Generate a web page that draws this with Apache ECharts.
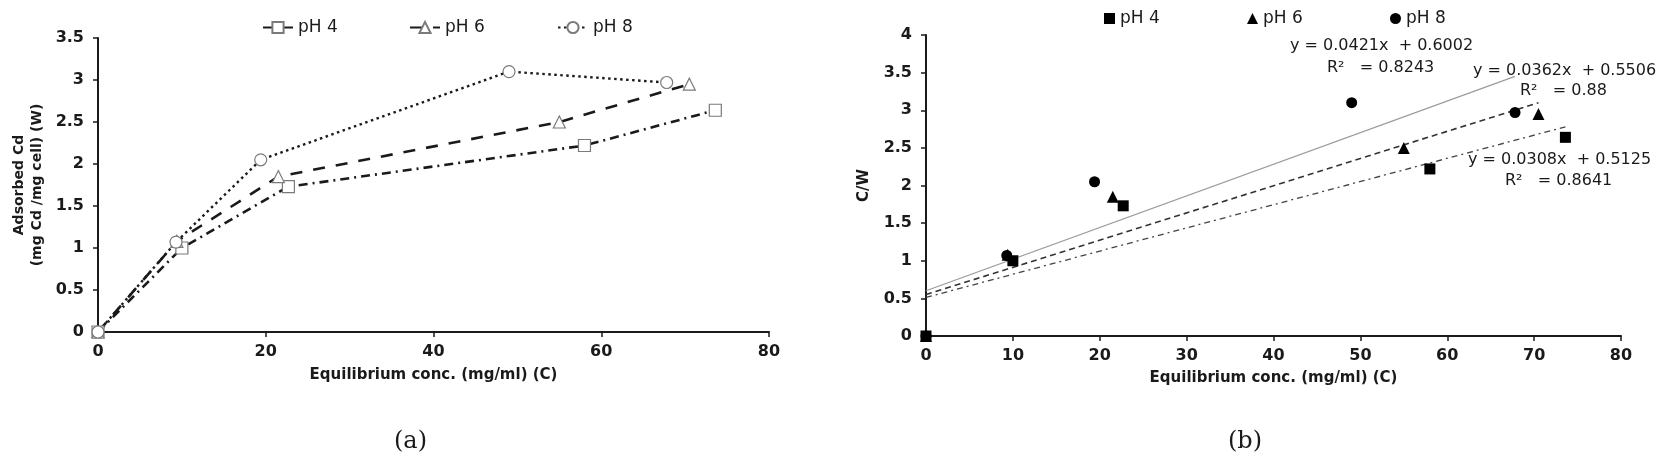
<!DOCTYPE html>
<html>
<head>
<meta charset="utf-8">
<script src="https://cdn.jsdelivr.net/npm/echarts@6/dist/echarts.min.js"></script>
<style>
  html, body { margin: 0; padding: 0; background: #fff; }
  #chart { width: 1667px; height: 462px; }
</style>
</head>
<body>
<div id="chart"></div>
<script>
// equilibrium conc. C (mg/ml) and adsorbed Cd W for each pH
const ph4C = [0, 10, 22.7, 58, 73.6]
const ph4W = [0, 1.0, 1.73, 2.22, 2.64]
const ph6C = [0, 9.4, 21.5, 55, 70.5]
const ph6W = [0, 1.08, 1.85, 2.5, 2.95]
const ph8C = [0, 9.3, 19.4, 49, 67.8]
const ph8W = [0, 1.07, 2.05, 3.1, 2.97]

// linear fits shown in panel (b): [x, y] at both ends of each line
const fit4 = [[0, 0.5125], [73.6, 2.78]]
const fit6 = [[0, 0.5506], [70.5, 3.10]]
const fit8 = [[0, 0.6002], [67.8, 3.45]]
const fitText = [
  ['y = 0.0421x  + 0.6002', 'R\u00b2   = 0.8243'],
  ['y = 0.0362x  + 0.5506', 'R\u00b2   = 0.88'],
  ['y = 0.0308x  + 0.5125', 'R\u00b2   = 0.8641']
]

const xTitle = 'Equilibrium conc. (mg/ml) (C)'
const FONT = 'DejaVu Sans'
const INK = '#1a1a1a'

const pairs = (xs, ys) => xs.map((x, i) => [x, ys[i]])

function axisBase() {
  return {
    type: 'value',
    splitLine: { show: false },
    axisLine: { show: true, lineStyle: { color: INK, width: 2 } },
    axisTick: { show: true, length: 5, lineStyle: { color: INK, width: 1.5 } },
    axisLabel: { color: INK, fontFamily: FONT, fontSize: 16, fontWeight: 'bold' },
    nameTextStyle: { color: INK, fontFamily: FONT, fontWeight: 'bold' }
  }
}

const chart = echarts.init(document.getElementById('chart'))

const hollow = { color: '#fff', borderColor: '#7a7a7a', borderWidth: 1.2 }
const lineA = (name, data, symbol, dash, width) => ({
  name: 'a:' + name,
  type: 'line',
  xAxisIndex: 0,
  yAxisIndex: 0,
  data,
  symbol,
  symbolSize: 12,
  showSymbol: true,
  itemStyle: hollow,
  lineStyle: { color: INK, width, type: dash },
  z: 3
})
const dotsB = (name, data, symbol, size) => ({
  name: 'b:' + name,
  type: 'scatter',
  xAxisIndex: 1,
  yAxisIndex: 1,
  data,
  symbol,
  symbolSize: size,
  itemStyle: { color: '#000', opacity: 1 },
  z: 4
})
const fitLine = (data, color, width, dash) => ({
  type: 'line',
  xAxisIndex: 1,
  yAxisIndex: 1,
  data,
  symbol: 'none',
  lineStyle: { color, width, type: dash },
  silent: true,
  z: 2
})

const legendText = { color: INK, fontFamily: FONT, fontSize: 17 }
const legendItem = (name, left, top, w, h) => ({
  data: [name],
  left,
  top,
  itemWidth: w,
  itemHeight: h,
  itemGap: 0,
  selectedMode: false,
  textStyle: legendText,
  formatter: n => n.slice(2)
})

const eqStyle = { fill: INK, font: '16px "DejaVu Sans"', textVerticalAlign: 'middle' }
const eqLabel = (text, x, y) => ({ type: 'text', left: x, top: y - 10, style: Object.assign({ text }, eqStyle) })

chart.setOption({
  animation: false,
  backgroundColor: '#fff',
  grid: [
    { left: 98, top: 38, width: 671, height: 294 },
    { left: 926, top: 35, width: 695, height: 301 }
  ],
  xAxis: [
    Object.assign(axisBase(), {
      gridIndex: 0, min: 0, max: 80, interval: 20,
      name: xTitle, nameLocation: 'middle', nameGap: 36,
      nameTextStyle: { color: INK, fontFamily: FONT, fontWeight: 'bold', fontSize: 15 },
      axisLabel: { color: INK, fontFamily: FONT, fontSize: 16, fontWeight: 'bold', margin: 12 }
    }),
    Object.assign(axisBase(), {
      gridIndex: 1, min: 0, max: 80, interval: 10,
      name: xTitle, nameLocation: 'middle', nameGap: 35,
      nameTextStyle: { color: INK, fontFamily: FONT, fontWeight: 'bold', fontSize: 15 },
      axisLabel: { color: INK, fontFamily: FONT, fontSize: 16, fontWeight: 'bold', margin: 12 }
    })
  ],
  yAxis: [
    Object.assign(axisBase(), {
      gridIndex: 0, min: 0, max: 3.5, interval: 0.5,
      name: 'Adsorbed Cd\n(mg Cd /mg cell) (W)', nameLocation: 'middle', nameRotate: 90, nameGap: 52,
      nameTextStyle: { color: INK, fontFamily: FONT, fontWeight: 'bold', fontSize: 14, lineHeight: 18 },
      axisLabel: { color: INK, fontFamily: FONT, fontSize: 16, fontWeight: 'bold', margin: 14 }
    }),
    Object.assign(axisBase(), {
      gridIndex: 1, min: 0, max: 4, interval: 0.5,
      name: 'C/W', nameLocation: 'middle', nameRotate: 90, nameGap: 54,
      nameTextStyle: { color: INK, fontFamily: FONT, fontWeight: 'bold', fontSize: 15 },
      axisLabel: { color: INK, fontFamily: FONT, fontSize: 16, fontWeight: 'bold', margin: 14 }
    })
  ],
  legend: [
    legendItem('a:pH 4', 257, 14, 30, 14),
    legendItem('a:pH 6', 404, 14, 30, 14),
    legendItem('a:pH 8', 552, 14, 30, 14),
    legendItem('b:pH 4', 1099, 5, 11, 11),
    legendItem('b:pH 6', 1242, 5, 11, 11),
    legendItem('b:pH 8', 1385, 5, 11, 11)
  ],
  series: [
    lineA('pH 4', pairs(ph4C, ph4W), 'rect', [9, 5, 2, 5], 2.6),
    lineA('pH 6', pairs(ph6C, ph6W), 'triangle', [12, 11], 2.6),
    lineA('pH 8', pairs(ph8C, ph8W), 'circle', [2.5, 3.5], 2.4),
    fitLine(fit8, '#9a9a9a', 1.1, 'solid'),
    fitLine(fit6, '#333', 1.6, [6, 4]),
    fitLine(fit4, '#444', 1.3, [6, 4, 2, 4]),
    dotsB('pH 4', pairs(ph4C, ph4W), 'rect', 11),
    dotsB('pH 6', pairs(ph6C, ph6W), 'triangle', 12),
    dotsB('pH 8', pairs(ph8C, ph8W), 'circle', 11)
  ],
  graphic: [
    eqLabel(fitText[0][0], 1290, 48),
    eqLabel(fitText[0][1], 1327, 70),
    eqLabel(fitText[1][0], 1473, 73),
    eqLabel(fitText[1][1], 1520, 93),
    eqLabel(fitText[2][0], 1468, 162),
    eqLabel(fitText[2][1], 1505, 183),
    { type: 'text', left: 394, top: 430, style: { text: '(a)', fill: INK, font: '24px "DejaVu Serif"' } },
    { type: 'text', left: 1228, top: 430, style: { text: '(b)', fill: INK, font: '24px "DejaVu Serif"' } }
  ]
})
</script>
</body>
</html>
